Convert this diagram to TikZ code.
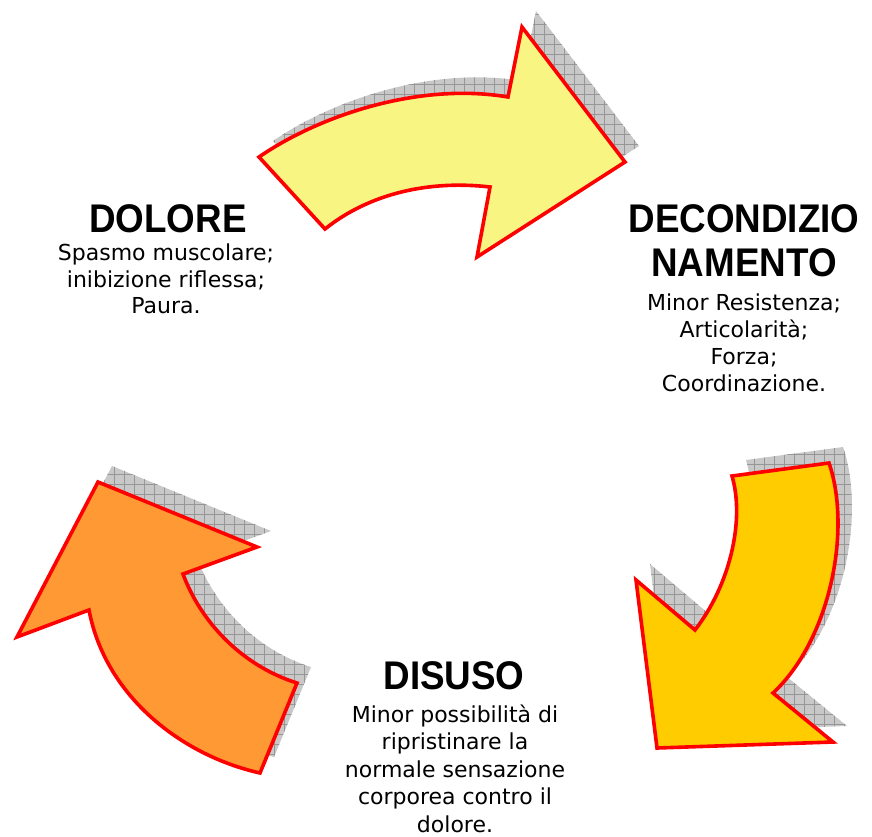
\documentclass[tikz,border=0pt]{standalone}
\usepackage{fontspec}
\newfontfamily\headfont[FakeStretch=0.92]{Liberation Sans}
\newfontfamily\bodyfont{DejaVu Sans}
\definecolor{arrowred}{HTML}{FF0000}
\definecolor{fillyellow}{HTML}{F8F582}
\definecolor{fillgold}{HTML}{FFCC00}
\definecolor{fillorange}{HTML}{FF9933}
\definecolor{shadowgray}{HTML}{C8C8C8}
\definecolor{gridgray}{HTML}{969696}
\newcommand\ArrowYellow{(259,157) .. controls (320,115) and (420,82) .. (508,97) -- (522,27) -- (625,162) -- (477,257) -- (490,187) .. controls (430,180) and (370,193) .. (325,229) -- cycle}
\newcommand\ArrowGold{(732,476) -- (829,463) .. controls (852,530) and (830,640) .. (773,693) -- (833,742) -- (657,748) -- (636,580) -- (695,630) .. controls (730,585) and (745,520) .. (732,476) -- cycle}
\newcommand\ArrowOrange{(98,482) -- (257,547) -- (183,574) .. controls (200,620) and (240,665) .. (297,683) -- (260,773) .. controls (180,755) and (105,695) .. (89,610) -- (17,637) -- cycle}
\tikzset{
  outline/.style={draw=arrowred, line width=3.6pt, line join=miter, miter limit=6},
  shadowgrid/.style={draw=gridgray, line width=0.6pt},
  headtext/.style={font=\headfont\bfseries\fontsize{40}{44}\selectfont, inner sep=0pt, anchor=base},
  bodytext/.style={font=\bodyfont\fontsize{22}{27}\selectfont, inner sep=0pt, anchor=base},
}
\begin{document}
\begin{tikzpicture}[x=1pt,y=-1pt]
\useasboundingbox (0,0) rectangle (872,836);
% shadows
\begin{scope}[shift={(14,-16)}]
  \begin{scope}
    \clip \ArrowYellow;
    \fill[shadowgray] (200,0) rectangle (700,300);
    \draw[shadowgrid, step=10pt] (200,0) grid (700,300);
  \end{scope}
  \begin{scope}
    \clip \ArrowGold;
    \fill[shadowgray] (600,420) rectangle (872,780);
    \draw[shadowgrid, step=10pt] (600,420) grid (872,780);
  \end{scope}
  \begin{scope}
    \clip \ArrowOrange;
    \fill[shadowgray] (0,440) rectangle (330,800);
    \draw[shadowgrid, step=10pt] (0,440) grid (330,800);
  \end{scope}
\end{scope}
% arrows
\fill[fillyellow] \ArrowYellow;
\draw[outline] \ArrowYellow;
\fill[fillgold] \ArrowGold;
\draw[outline] \ArrowGold;
\fill[fillorange] \ArrowOrange;
\draw[outline] \ArrowOrange;
% texts
\node[headtext] (dolore) at (168,232) {DOLORE};
\node[bodytext] (d1) at (166,260.5) {Spasmo muscolare;};
\node[bodytext] (d2) at (166,287) {inibizione riflessa;};
\node[bodytext] (d3) at (166,313.5) {Paura.};
\node[headtext] (dec1) at (744,232) {DECONDIZIO};
\node[headtext] (dec2) at (744,276) {NAMENTO};
\node[bodytext] (c1) at (744,310) {Minor Resistenza;};
\node[bodytext] (c2) at (744,337) {Articolarità;};
\node[bodytext] (c3) at (744,364) {Forza;};
\node[bodytext] (c4) at (744,391) {Coordinazione.};
\node[headtext] (disuso) at (454,689) {DISUSO};
\node[bodytext] (u1) at (455,722) {Minor possibilità di};
\node[bodytext] (u2) at (455,749.5) {ripristinare la};
\node[bodytext] (u3) at (455,777) {normale sensazione};
\node[bodytext] (u4) at (455,804.5) {corporea contro il};
\node[bodytext] (u5) at (455,832) {dolore.};
\end{tikzpicture}
\end{document}
